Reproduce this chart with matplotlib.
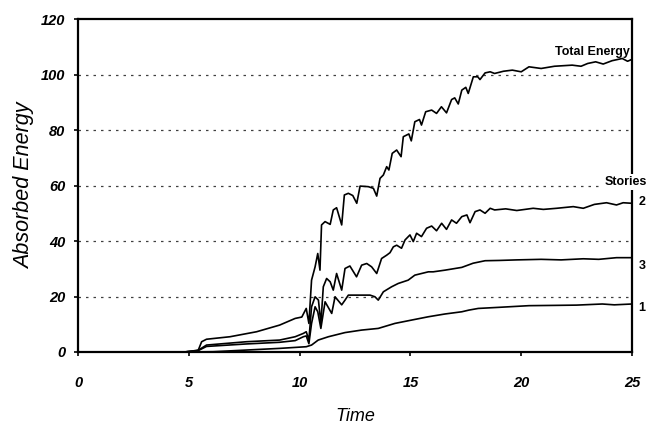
import numpy as np
import matplotlib

matplotlib.use("Agg")
import matplotlib.pyplot as plt

# ---- absorbed energy histories (time, energy) ----
total_t = [0, 4.8, 5.2, 5.43, 5.58, 5.8, 6.86, 8.06, 9.1, 9.8, 10.1, 10.3, 10.42,
           10.54, 10.7, 10.82, 10.92, 10.99, 11.15, 11.38, 11.52, 11.67, 11.9,
           12.02, 12.2, 12.4, 12.58, 12.73, 13.1, 13.33, 13.48, 13.63, 13.78,
           13.93, 14.03, 14.18, 14.38, 14.58, 14.68, 14.93, 15.04, 15.2, 15.41,
           15.5, 15.69, 15.96, 16.18, 16.4, 16.63, 16.86, 17.0, 17.16, 17.32,
           17.5, 17.61, 17.84, 18.04, 18.14, 18.37, 18.6, 18.8, 19.2, 19.6,
           20.0, 20.35, 20.9, 21.5, 22.3, 22.7, 23.0, 23.36, 23.7, 24.1, 24.56,
           24.8, 25.0]
total_e = [0, 0, 0.4, 0.7, 3.7, 4.6, 5.5, 7.3, 9.7, 12.1, 12.6, 15.7, 10.3,
           25.9, 30.7, 35.5, 29.5, 45.8, 47.0, 46.0, 51.2, 52.0, 45.8,
           56.6, 57.2, 56.4, 53.6, 59.8, 59.6, 59.0, 56.2, 62.6, 63.8,
           66.8, 65.6, 71.6, 72.8, 70.4, 77.6, 78.6, 76.1, 83.0, 83.8,
           81.8, 86.6, 87.2, 86.0, 88.4, 86.2, 91.0, 91.6, 89.4, 94.4,
           95.4, 93.2, 99.2, 99.2, 98.2, 100.6, 101.0, 100.4, 101.2, 101.6,
           101.0, 102.8, 102.2, 103.0, 103.4, 103.0, 104.0, 104.6, 103.8, 105.0,
           105.8, 104.8, 105.5]

s2_t = [0, 4.8, 5.4, 5.8, 7.6, 9.1, 9.8, 10.17, 10.3, 10.42, 10.54, 10.7,
        10.85, 10.96, 11.07, 11.22, 11.38, 11.52, 11.67, 11.9, 12.05, 12.27,
        12.57, 12.8, 13.03, 13.25, 13.48, 13.7, 13.93, 14.08, 14.23, 14.38,
        14.6, 14.76, 14.98, 15.13, 15.28, 15.5, 15.73, 15.96, 16.18, 16.41,
        16.63, 16.86, 17.08, 17.32, 17.55, 17.69, 17.92, 18.14, 18.37, 18.6,
        18.8, 19.3, 19.8, 20.54, 21.0, 21.6, 22.35, 22.8, 23.3, 23.85, 24.3,
        24.6, 25.0]
s2_e = [0, 0, 0.5, 2.5, 3.7, 4.3, 5.5, 6.7, 7.3, 4.3, 16.3, 19.9,
        18.7, 10.3, 23.5, 26.5, 25.3, 22.3, 28.3, 22.3, 30.1, 31.0,
        27.1, 31.3, 31.9, 30.7, 28.3, 33.7, 34.9, 35.8, 37.9, 38.5,
        37.4, 40.4, 42.2, 39.8, 42.8, 41.6, 44.6, 45.4, 43.7, 46.4,
        44.2, 47.6, 46.4, 48.8, 49.4, 46.6, 50.6, 51.2, 50.0, 51.8,
        51.2, 51.6, 51.0, 51.8, 51.4, 51.8, 52.4, 51.8, 53.2, 53.8, 53.0,
        53.8, 53.6]

s3_t = [0, 4.8, 5.4, 5.8, 7.6, 9.1, 9.8, 10.17, 10.3, 10.42, 10.54, 10.7,
        10.82, 10.96, 11.15, 11.45, 11.6, 11.9, 12.05, 12.2, 12.65, 13.18,
        13.4, 13.55, 13.78, 14.15, 14.45, 14.9, 15.2, 15.81, 16.03, 16.56,
        17.32, 17.83, 18.37, 19.0, 19.8, 20.9, 21.8, 22.8, 23.5, 24.3, 25.0]
s3_e = [0, 0, 0.4, 2.0, 2.9, 3.5, 4.1, 5.5, 5.8, 3.0, 10.3, 16.3,
        14.5, 8.5, 18.1, 13.9, 19.9, 17.0, 18.7, 20.5, 20.5, 20.5,
        19.9, 18.7, 21.7, 23.5, 24.7, 25.9, 27.7, 28.9, 28.9, 29.5,
        30.5, 32.0, 32.9, 33.0, 33.2, 33.4, 33.2, 33.6, 33.4, 34.0, 34.0]

s1_t = [0, 5.0, 6.1, 7.6, 9.1, 10.3, 10.54, 10.84, 11.3, 12.05, 12.8, 13.55,
        14.3, 15.05, 15.81, 16.56, 17.32, 17.64, 18.06, 19.0, 20.35, 21.5,
        22.5, 23.66, 24.2, 25.0]
s1_e = [0, 0, 0.1, 0.7, 1.3, 1.9, 2.5, 4.3, 5.5, 7.0, 7.9, 8.5,
        10.3, 11.5, 12.7, 13.7, 14.5, 15.1, 15.7, 16.1, 16.7, 16.8,
        16.9, 17.3, 17.0, 17.3]

story_labels = ["2", "3", "1"]
story_label_y = [54.0, 31.1, 15.9]

plt.rcParams["font.family"] = ["Liberation Sans", "DejaVu Sans"]

fig = plt.figure(figsize=(6.58, 4.29), dpi=100)
ax = fig.add_axes([0.1185, 0.1795, 0.842, 0.776])

for tt, ee in [(total_t, total_e), (s2_t, s2_e), (s3_t, s3_e), (s1_t, s1_e)]:
    ax.plot(tt, ee, color="black", lw=1.2, zorder=3)

ax.set_xlim(0, 25)
ax.set_ylim(0, 120)
ax.set_xticks(np.arange(0, 26, 5))
ax.set_yticks(np.arange(0, 121, 20))
for y in range(20, 101, 20):
    ax.axhline(y, color="0.25", lw=0.9, ls=(0, (2, 4)), zorder=1)

for s in ax.spines.values():
    s.set_linewidth(1.6)
ax.tick_params(direction="out", length=3, width=1.2)
ax.tick_params(axis="y", pad=6)
ax.tick_params(axis="x", pad=14)
for lab in ax.get_xticklabels() + ax.get_yticklabels():
    lab.set_fontsize(10.5)
    lab.set_fontweight("bold")
    lab.set_fontstyle("italic")

ax.set_xlabel("Time", fontsize=13, style="italic", labelpad=13)
ax.set_ylabel("Absorbed Energy", fontsize=15.5, style="italic", labelpad=4)

ax.text(24.9, 108, "Total Energy", fontsize=9, fontweight="bold",
        ha="right", va="center")
ax.text(24.7, 61.3, "Stories", fontsize=9, fontweight="bold",
        ha="center", va="center", clip_on=False,
        bbox=dict(facecolor="white", edgecolor="none", pad=1.5), zorder=5)
for lab, e in zip(story_labels, story_label_y):
    ax.text(1.012, e / 120, lab, transform=ax.transAxes, fontsize=9,
            fontweight="bold", ha="left", va="center")

fig.savefig("out.png", dpi=100)
